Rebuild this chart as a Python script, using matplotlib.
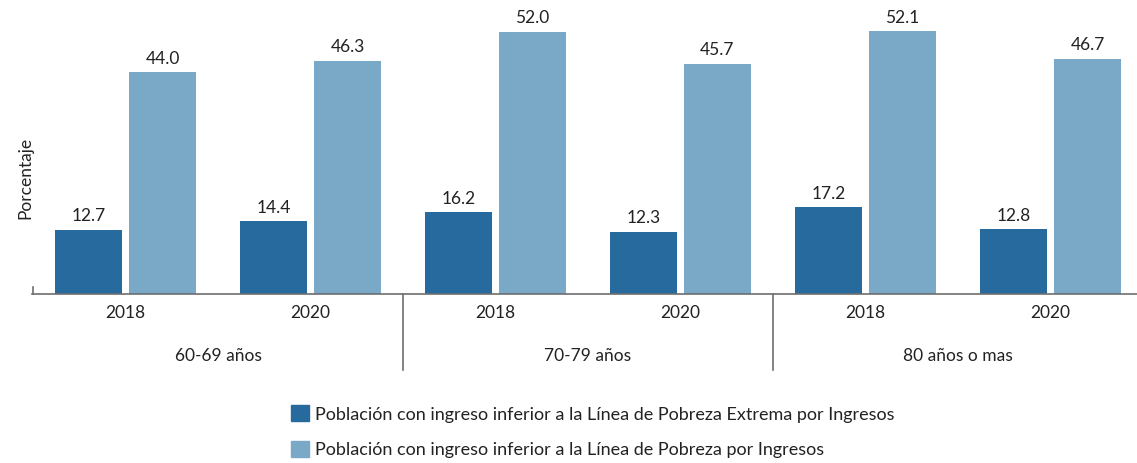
import matplotlib.pyplot as plt
from matplotlib.patches import Patch
import numpy as np

plt.rcParams['font.family'] = ['Lato', 'DejaVu Sans']

groups = ["60-69 años", "70-79 años", "80 años o mas"]
years = ["2018", "2020", "2018", "2020", "2018", "2020"]
extrema = [12.7, 14.4, 16.2, 12.3, 17.2, 12.8]
pobreza = [44.0, 46.3, 52.0, 45.7, 52.1, 46.7]
series_names = [
    "Población con ingreso inferior a la Línea de Pobreza Extrema por Ingresos",
    "Población con ingreso inferior a la Línea de Pobreza por Ingresos",
]

dark = "#276a9e"
light = "#7aa8c7"
axis_grey = "#6e6e6e"

W, H = 1137, 463
fig = plt.figure(figsize=(W / 100, H / 100), dpi=100)
base_px = 294
ax = fig.add_axes([32 / W, (H - base_px) / H, 1 - 32 / W, base_px / H])

x = np.arange(len(years))
bw = 67 / 185
off = 37 / 185
b1 = ax.bar(x - off, extrema, bw, color=dark)
b2 = ax.bar(x + off, pobreza, bw, color=light)

for bars, vals in ((b1, extrema), (b2, pobreza)):
    for rect, v in zip(bars, vals):
        ax.annotate(f"{v:.1f}", (rect.get_x() + rect.get_width() / 2, v),
                    xytext=(0, 4), textcoords="offset points",
                    ha="center", va="bottom", fontsize=12.5, color="#222222")

ax.set_xlim((32 - 125.5) / 185, (1137 - 125.5) / 185)
ax.set_ylim(0, base_px / 5.04)

for s in ("top", "right", "left"):
    ax.spines[s].set_visible(False)
ax.spines["bottom"].set_color(axis_grey)
ax.spines["bottom"].set_linewidth(1.2)
ax.set_yticks([])
ax.set_xticks(x)
ax.set_xticklabels(years, fontsize=12.5, color="#222222")
ax.tick_params(axis="x", length=0, pad=8)

# left end tick and the group separators below the axis
tr = ax.get_xaxis_transform()
ax.plot([ax.get_xlim()[0] + 0.003] * 2, [0, 7 / base_px], color=axis_grey, lw=1.2,
        transform=tr, clip_on=False)
for sep in (1.5, 3.5):
    ax.plot([sep, sep], [0, -76 / base_px], color=axis_grey, lw=1.2,
            transform=tr, clip_on=False)

for i, g in enumerate(groups):
    ax.text(2 * i + 0.5, -62 / base_px, g, transform=tr, ha="center", va="center",
            fontsize=12.5, color="#222222")

fig.text(25 / W, 1 - 178 / H, "Porcentaje", rotation=90, ha="center", va="center",
         fontsize=12.5, color="#222222")

handles = [Patch(color=dark), Patch(color=light)]
fig.legend(handles, series_names, loc="upper left", bbox_to_anchor=(275 / W, 1 - 389 / H),
           frameon=False, fontsize=13, handlelength=1.0, handleheight=1.0,
           handletextpad=0.3, labelspacing=1.0, labelcolor="#222222")

fig.savefig("out.png", dpi=100)
